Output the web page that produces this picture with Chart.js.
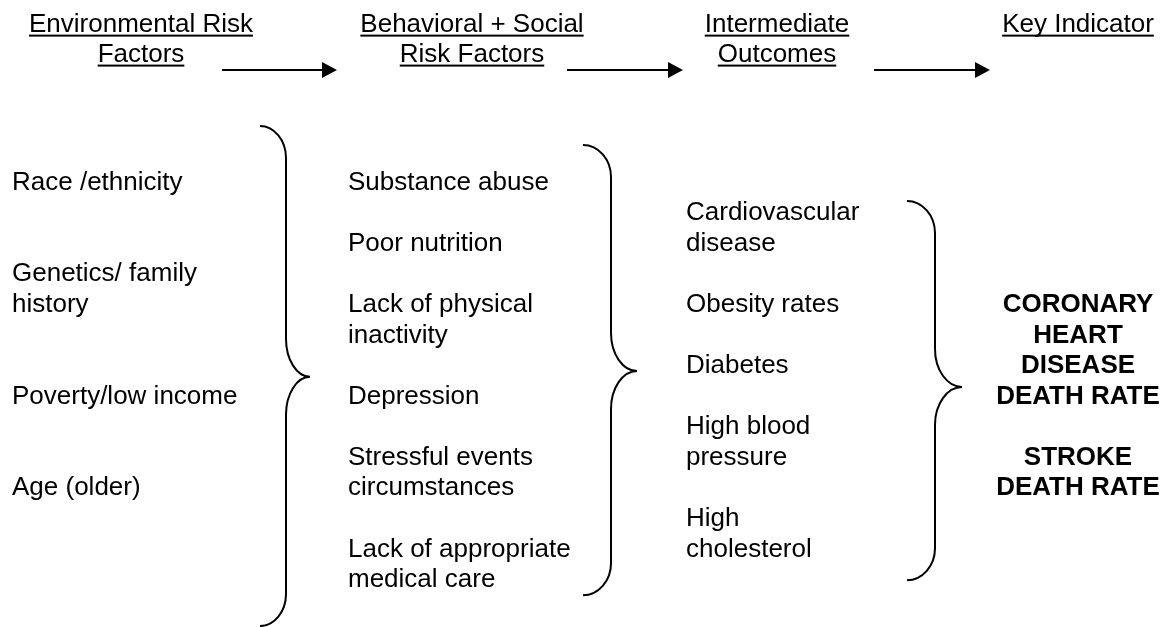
<!DOCTYPE html>
<html>
<head>
<meta charset="utf-8">
<script src="https://cdn.jsdelivr.net/npm/chart.js@4"></script>
<style>
  body { margin: 0; background: #fff; }
  #wrap { width: 1172px; height: 627px; }
</style>
</head>
<body>
<div id="wrap"><canvas id="myChart"></canvas></div>
<script>
// column titles (one array per column, one entry per line)
const headers = [
    ['Environmental Risk', 'Factors'],
    ['Behavioral + Social', 'Risk Factors'],
    ['Intermediate', 'Outcomes'],
    ['Key Indicator']
]

// one entry per text line, '' = blank line
const environmental = ['Race /ethnicity', '', '', 'Genetics/ family', 'history', '', '', 'Poverty/low income', '', '', 'Age (older)']
const behavioral = ['Substance abuse', '', 'Poor nutrition', '', 'Lack of physical', 'inactivity', '', 'Depression', '', 'Stressful events', 'circumstances', '', 'Lack of appropriate', 'medical care']
const outcomes = ['', 'Cardiovascular', 'disease', '', 'Obesity rates', '', 'Diabetes', '', 'High blood', 'pressure', '', 'High', 'cholesterol']
const indicators = ['', '', '', '', 'CORONARY', 'HEART', 'DISEASE', 'DEATH RATE', '', 'STROKE', 'DEATH RATE']

const columns = [environmental, behavioral, outcomes, indicators]

// layout (x in scale units, y in line units)
const layout = {
    colX: [12, 348, 686, 1078],
    colAlign: ['left', 'left', 'left', 'center'],
    colBold: [false, false, false, true],
    headX: [141, 472, 777, 1078],
    headY: [-5.15, -4.17],
    arrowY: -3.91,
    arrows: [[222, 337], [567, 683], [874, 990]],
    braces: [
        { ends: 260, stem: 286, tip: 310, top: -2.08, mid: 6.12, bot: 14.27 },
        { ends: 583, stem: 611, tip: 637, top: -1.46, mid: 5.93, bot: 13.26 },
        { ends: 907, stem: 935, tip: 962, top: 0.37, mid: 6.45, bot: 12.77 }
    ]
}

const FONT = '26px "Liberation Sans", Arial, sans-serif'
const BOLD = 'bold 26px "Liberation Sans", Arial, sans-serif'

const datasets = columns.map((col, c) => ({
    data: col.map((t, i) => ({ x: layout.colX[c], y: i, t: t })).filter(p => p.t !== ''),
    pointRadius: 0,
    showLine: false,
    col: c
}))

const diagramPlugin = {
    id: 'diagram',
    afterDatasetsDraw(chart) {
        const g = chart.ctx
        const xs = chart.scales.x
        const ys = chart.scales.y
        g.save()
        g.fillStyle = '#000'
        g.strokeStyle = '#000'
        g.textBaseline = 'alphabetic'

        // headers, underlined
        g.font = FONT
        g.textAlign = 'center'
        headers.forEach((lines, c) => {
            lines.forEach((txt, k) => {
                const px = xs.getPixelForValue(layout.headX[c])
                const py = ys.getPixelForValue(layout.headY[k])
                g.fillText(txt, px, py)
                const w = g.measureText(txt).width
                g.fillRect(px - w / 2, py + 2.5, w, 2)
            })
        })

        // arrows
        g.lineWidth = 2
        layout.arrows.forEach(a => {
            const y = ys.getPixelForValue(layout.arrowY)
            const x0 = xs.getPixelForValue(a[0])
            const x1 = xs.getPixelForValue(a[1])
            g.beginPath()
            g.moveTo(x0, y)
            g.lineTo(x1 - 14, y)
            g.stroke()
            g.beginPath()
            g.moveTo(x1, y)
            g.lineTo(x1 - 15, y - 8)
            g.lineTo(x1 - 15, y + 8)
            g.closePath()
            g.fill()
        })

        // braces
        layout.braces.forEach(b => {
            const e = xs.getPixelForValue(b.ends)
            const s = xs.getPixelForValue(b.stem)
            const t = xs.getPixelForValue(b.tip)
            const yt = ys.getPixelForValue(b.top)
            const ym = ys.getPixelForValue(b.mid)
            const yb = ys.getPixelForValue(b.bot)
            const r = 32, rm = 38, k = 0.55
            g.beginPath()
            g.moveTo(e, yt)
            g.bezierCurveTo(e + k * (s - e), yt, s, yt + r * (1 - k), s, yt + r)
            g.lineTo(s, ym - rm)
            g.bezierCurveTo(s, ym - rm * (1 - k), t - k * (t - s), ym, t, ym)
            g.bezierCurveTo(t - k * (t - s), ym, s, ym + rm * (1 - k), s, ym + rm)
            g.lineTo(s, yb - r)
            g.bezierCurveTo(s, yb - r * (1 - k), e + k * (s - e), yb, e, yb)
            g.stroke()
        })

        // item texts at the points placed by the scales
        chart.data.datasets.forEach((ds, di) => {
            const meta = chart.getDatasetMeta(di)
            g.font = layout.colBold[ds.col] ? BOLD : FONT
            g.textAlign = layout.colAlign[ds.col]
            meta.data.forEach((pt, j) => {
                g.fillText(ds.data[j].t, pt.x, pt.y)
            })
        })
        g.restore()
    }
}

const ctx = document.getElementById('myChart')

new Chart(ctx, {
    type: 'scatter',
    data: { datasets: datasets },
    options: {
        responsive: true,
        maintainAspectRatio: false,
        animation: false,
        layout: { padding: 0 },
        plugins: {
            legend: { display: false },
            tooltip: { enabled: false }
        },
        scales: {
            x: { type: 'linear', min: 0, max: 1172, display: false },
            y: { type: 'linear', min: -6.2, max: 14.3, reverse: true, display: false }
        }
    },
    plugins: [diagramPlugin]
});
</script>
</body>
</html>
